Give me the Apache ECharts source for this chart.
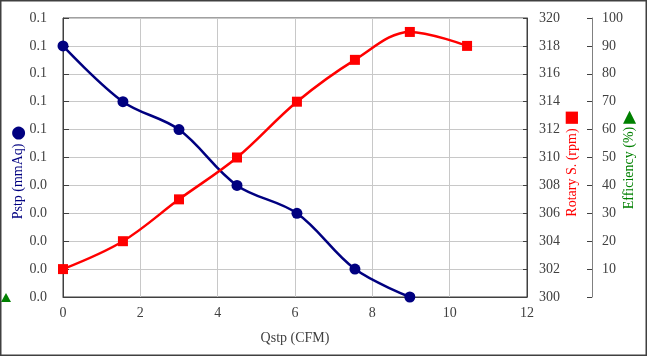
<!DOCTYPE html>
<html>
<head>
<meta charset="utf-8">
<script src="https://cdn.jsdelivr.net/npm/echarts@6/dist/echarts.min.js"></script>
<style>
html,body{margin:0;padding:0;background:#fff;}
#chart{width:647px;height:356px;}
</style>
</head>
<body>
<div id="chart"></div>
<script>
// Data
const qstpP = [0, 1.55, 3.0, 4.5, 6.05, 7.55, 8.97];
const pstp = [0.09, 0.07, 0.06, 0.04, 0.03, 0.01, 0.0];
const qstpR = [0, 1.55, 3.0, 4.5, 6.05, 7.55, 8.97, 10.45];
const rpm = [302, 304, 307, 310, 314, 317, 319, 318];
const pstpTickLabels = ['0.0','0.0','0.0','0.0','0.0','0.1','0.1','0.1','0.1','0.1','0.1'];
const effTickLabels = ['', '10', '20', '30', '40', '50', '60', '70', '80', '90', '100'];

const serif = '"Liberation Serif", "Times New Roman", serif';
const labelColor = '#404040';

const chart = echarts.init(document.getElementById('chart'), null, {renderer: 'canvas'});
chart.setOption({
  animation: false,
  backgroundColor: '#fff',
  grid: {left: 63, right: 120, top: 18, bottom: 59, show: true, borderColor: '#404040', borderWidth: 1,
    containLabel: false, outerBoundsMode: 'none'},
  graphic: [
    {type: 'rect', shape: {x: 0.75, y: 0.75, width: 645.5, height: 354.5}, style: {fill: null, stroke: '#404040', lineWidth: 1.5}, silent: true, z: 100},
    {type: 'polygon', shape: {points: [[1, 302], [11, 302], [6, 293]]}, style: {fill: '#008000'}, silent: true}
  ],
  xAxis: {
    type: 'value', min: 0, max: 12, interval: 2,
    name: 'Qstp (CFM)', nameLocation: 'middle', nameGap: 34, nameMoveOverlap: false,
    nameTextStyle: {fontFamily: serif, fontSize: 14, color: labelColor},
    axisLine: {show: true, lineStyle: {color: '#404040'}},
    axisTick: {show: false},
    axisLabel: {fontFamily: serif, fontSize: 14, color: labelColor, margin: 9},
    splitLine: {show: true, lineStyle: {color: '#c8c8c8', width: 1}}
  },
  yAxis: [
    {
      type: 'value', position: 'left', min: 0, max: 0.1, interval: 0.01,
      name: 'Pstp (mmAq){s|●}', nameLocation: 'middle', nameGap: 36, nameRotate: 90, nameMoveOverlap: false,
      nameTextStyle: {fontFamily: serif, fontSize: 14, color: '#000080', padding: [0, 30, 0, 0],
        rich: {s: {fontFamily: 'DejaVu Sans', fontSize: 17, color: '#000080', padding: [0, 0, 0, 3]}}},
      axisLine: {show: true, lineStyle: {color: '#404040'}},
      axisTick: {show: true, inside: true, length: 6, lineStyle: {color: '#404040'}},
      axisLabel: {fontFamily: serif, fontSize: 14, color: labelColor, margin: 16,
        formatter: v => pstpTickLabels[Math.round(v / 0.01)]},
      splitLine: {show: true, lineStyle: {color: '#c8c8c8', width: 1}}
    },
    {
      type: 'value', position: 'right', min: 300, max: 320, interval: 2,
      name: 'Rotary S. (rpm){s|■}', nameLocation: 'middle', nameGap: 37, nameRotate: 90, nameMoveOverlap: false,
      nameTextStyle: {fontFamily: serif, fontSize: 14, color: '#ff0000', padding: [0, 12, 0, 0],
        rich: {s: {fontFamily: 'DejaVu Sans', fontSize: 16, color: '#ff0000', padding: [0, 0, 0, 3]}}},
      axisLine: {show: true, lineStyle: {color: '#404040'}},
      axisTick: {show: true, inside: true, length: 4, lineStyle: {color: '#404040'}},
      axisLabel: {fontFamily: serif, fontSize: 14, color: labelColor, margin: 12},
      splitLine: {show: false}
    },
    {
      type: 'value', position: 'right', offset: 65, min: 0, max: 100, interval: 10,
      name: 'Efficiency (%){s|▶}', nameLocation: 'middle', nameGap: 29, nameRotate: 90, nameMoveOverlap: false,
      nameTextStyle: {fontFamily: serif, fontSize: 14, color: '#008000', padding: [0, 5, 0, 0],
        rich: {s: {fontFamily: 'DejaVu Sans', fontSize: 17, color: '#008000', padding: [0, 0, 0, 3]}}},
      axisLine: {show: true, lineStyle: {color: '#808080'}},
      axisTick: {show: true, inside: true, length: 5, lineStyle: {color: '#404040'}},
      axisLabel: {fontFamily: serif, fontSize: 14, color: labelColor, margin: 10,
        formatter: v => effTickLabels[Math.round(v / 10)]},
      splitLine: {show: false}
    }
  ],
  series: [
    {
      type: 'line', yAxisIndex: 0, smooth: 0.35,
      data: qstpP.map((x, i) => [x, pstp[i]]),
      symbol: 'circle', symbolSize: 11,
      lineStyle: {color: '#000080', width: 2.5},
      itemStyle: {color: '#000080'},
      clip: false, z: 3
    },
    {
      type: 'line', yAxisIndex: 1, smooth: 0.35,
      data: qstpR.map((x, i) => [x, rpm[i]]),
      symbol: 'rect', symbolSize: 10,
      lineStyle: {color: '#ff0000', width: 2.5},
      itemStyle: {color: '#ff0000'},
      clip: false, z: 4
    }
  ]
});
</script>
</body>
</html>
